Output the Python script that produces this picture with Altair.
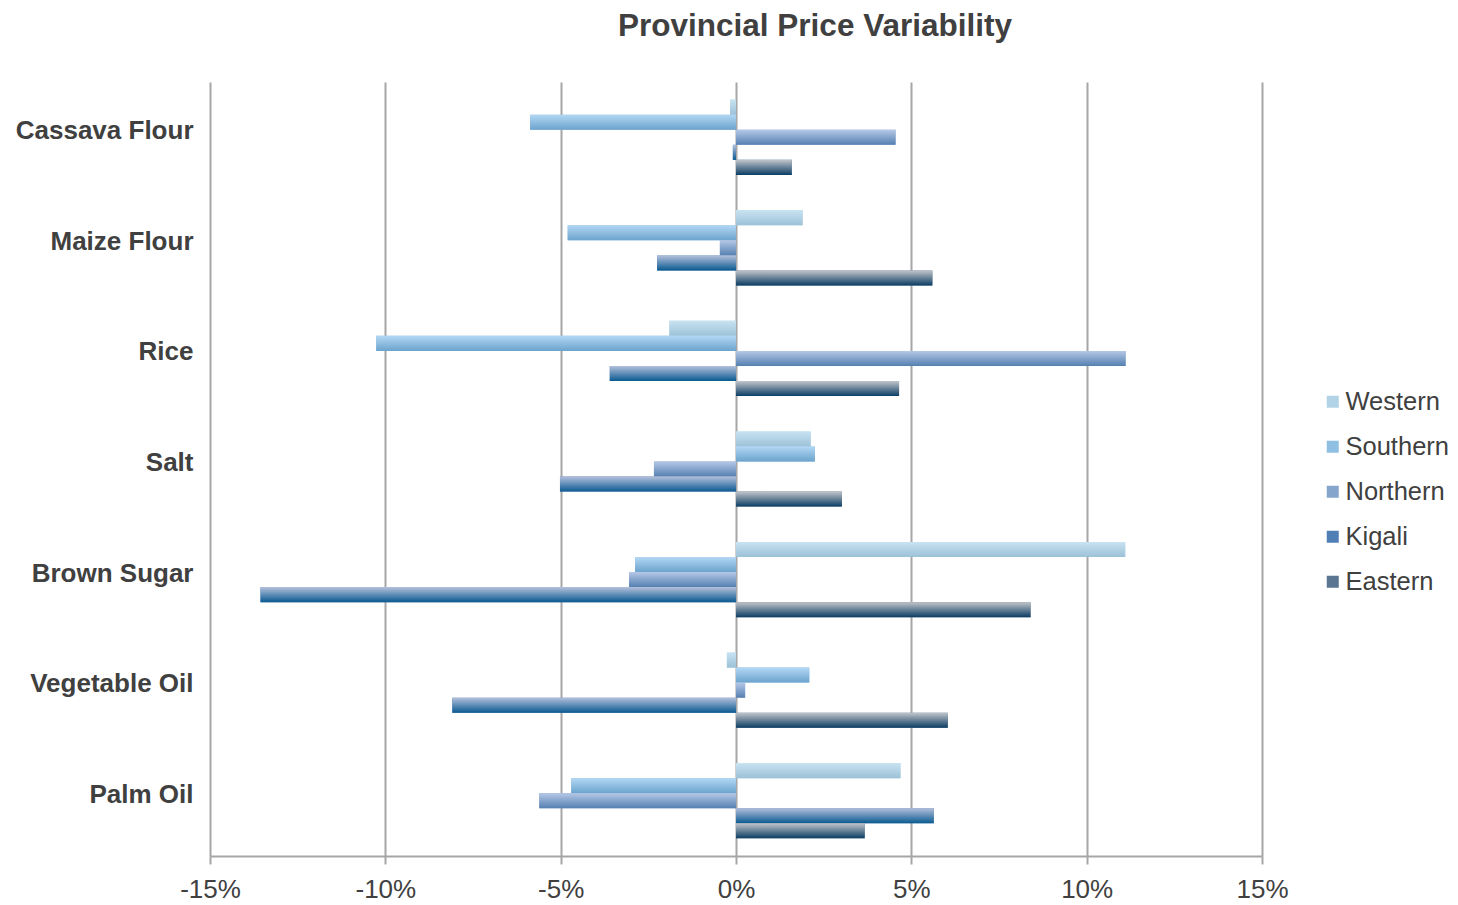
import altair as alt
import pandas as pd

categories = ["Cassava Flour", "Maize Flour", "Rice", "Salt", "Brown Sugar", "Vegetable Oil", "Palm Oil"]
series = ["Western", "Southern", "Northern", "Kigali", "Eastern"]

western = [-0.17, 1.90, -1.90, 2.13, 11.10, -0.26, 4.69]
southern = [-5.87, -4.80, -10.26, 2.25, -2.88, 2.09, -4.70]
northern = [4.55, -0.46, 11.11, -2.34, -3.05, 0.26, -5.61]
kigali = [-0.09, -2.25, -3.60, -5.02, -13.56, -8.09, 5.64]
eastern = [1.59, 5.60, 4.65, 3.02, 8.40, 6.04, 3.67]

tick_values = [-15, -10, -5, 0, 5, 10, 15]

top_colors = ["#c8e3f2", "#b2d8f4", "#b5c8e7", "#b4c0dc", "#c2c5cb"]
bottom_colors = ["#9cc1d7", "#6ca3cd", "#5580b1", "#0a5a91", "#0b3d63"]
mid_colors = ["#b2d3e6", "#8fbfe2", "#86a5cd", "#4f7fb4", "#5a7690"]

values = [western, southern, northern, kigali, eastern]
rows = []
for s, vals in zip(series, values):
    for c, v in zip(categories, vals):
        rows.append({"category": c, "series": s, "value": v})
df = pd.DataFrame(rows)

FONT = "Liberation Sans"
TXT = "#404040"
GRID = "#a6a6a6"

base = alt.Chart(df).encode(
    y=alt.Y(
        "category:N",
        sort=categories,
        scale=alt.Scale(domain=categories, paddingInner=0.32, paddingOuter=0.16),
        axis=alt.Axis(
            title=None, domain=False, ticks=False, grid=False,
            labelFont=FONT, labelFontSize=26, labelFontWeight="bold",
            labelColor=TXT, labelPadding=17, labelOffset=-6,
        ),
    ),
    yOffset=alt.YOffset(
        "series:N",
        sort=series,
        scale=alt.Scale(domain=series, paddingInner=0, paddingOuter=0),
    ),
    x=alt.X(
        "value:Q",
        scale=alt.Scale(domain=[-15, 15], nice=False),
        axis=alt.Axis(
            title=None, values=tick_values, labelExpr="datum.value + '%'",
            grid=True, gridColor=GRID, gridWidth=2,
            domain=True, domainColor=GRID, domainWidth=2,
            ticks=True, tickColor=GRID, tickWidth=2, tickSize=8,
            labelFont=FONT, labelFontSize=26, labelColor=TXT, labelPadding=12,
            labelFlush=False, labelOverlap=False,
        ),
    ),
)

legend_layer = base.mark_bar().encode(
    color=alt.Color(
        "series:N",
        sort=series,
        scale=alt.Scale(domain=series, range=mid_colors),
        legend=alt.Legend(
            title=None, orient="none", legendX=1110, legendY=307,
            symbolType="square", symbolSize=144, symbolStrokeWidth=0,
            labelFont=FONT, labelFontSize=25.5, labelColor=TXT,
            labelOffset=0, rowPadding=18,
        ),
    )
)

layers = [legend_layer]
for s, t, b in zip(series, top_colors, bottom_colors):
    grad = alt.Gradient(
        gradient="linear",
        stops=[alt.GradientStop(color=t, offset=0), alt.GradientStop(color=b, offset=1)],
        x1=0, x2=0, y1=0, y2=1,
    )
    layers.append(base.transform_filter(alt.datum.series == s).mark_bar(color=grad))

chart = alt.layer(*layers).properties(
    width=1052,
    height=774,
    padding={"top": 2, "left": 7, "right": 0, "bottom": 5},
    title=alt.TitleParams(
        "Provincial Price Variability", font=FONT, fontSize=31.5, fontWeight="bold",
        color=TXT, anchor="middle", dx=79, offset=40,
    ),
).configure_view(stroke=None)

chart.save("out.html", embed_options={"renderer": "svg", "actions": False})
